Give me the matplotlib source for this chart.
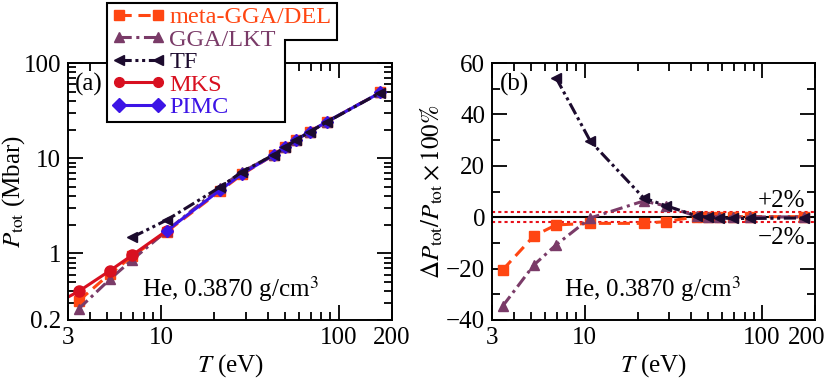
"""Helium total pressure vs temperature: absolute values and relative deviations."""

import matplotlib

matplotlib.use("Agg")
import matplotlib.pyplot as plt
import numpy as np
from matplotlib.lines import Line2D
from matplotlib.patches import Polygon
from matplotlib.ticker import FixedLocator, LogLocator, MultipleLocator, NullFormatter
from matplotlib.transforms import ScaledTranslation

plt.rcParams["font.family"] = ["Liberation Serif", "DejaVu Serif"]
plt.rcParams["mathtext.fontset"] = "stix"
plt.rcParams["axes.linewidth"] = 1.4

# temperatures (eV)
T_ALL = [3.447, 5.17, 6.894, 10.77, 21.54, 28.73, 43.09, 50.0, 57.45, 68.94, 86.17, 172.3]
T_TF = [6.894, 10.77, 21.54, 28.73, 43.09, 50.0, 57.45, 68.94, 86.17, 172.3]
T_MKS = [2.585, 3.447, 5.17, 6.894, 10.77]
T_PIMC = [10.77, 21.54, 28.73, 43.09, 50.0, 57.45, 68.94, 86.17, 172.3]

# panel (a): total pressure (Mbar)
P_DEL = [0.318, 0.612, 0.931, 1.69, 4.52, 6.78, 10.82, 13.03, 15.53, 19.04, 24.25, 49.1]
P_LKT = [0.262, 0.537, 0.856, 1.725, 4.92, 7.20, 10.83, 13.03, 15.53, 19.02, 24.22, 49.05]
P_TF = [1.48, 2.24, 4.98, 7.21, 10.85, 13.0, 15.45, 18.9, 24.08, 48.85]
P_MKS = [0.30, 0.40, 0.66, 0.96, 1.73]
P_PIMC = [1.73, 4.63, 6.9, 10.8, 13.0, 15.5, 19.0, 24.2, 49.0]

# panel (b): relative deviation (%)
D_DEL = [-20.5, -7.3, -3.0, -2.4, -2.4, -1.7, 0.2, 0.2, 0.2, 0.2, 0.2, 0.2]
D_LKT = [-34.6, -18.6, -10.8, -0.3, 6.3, 4.4, 0.3, 0.2, 0.2, 0.1, 0.1, 0.1]
D_TF = [54.3, 29.6, 7.5, 4.5, 0.5, 0.0, -0.3, -0.5, -0.5, -0.3]

X_TICKS = [3, 10, 100, 200]
C_DEL = "#FF4612"
C_LKT = "#7A3B68"
C_TF = "#1C0B2E"
C_MKS = "#D81020"
C_PIMC = "#3C14E6"

STYLE = {
    "DEL": dict(color=C_DEL, marker="s", ls=(0, (4, 2.2)), label="meta-GGA/DEL"),
    "LKT": dict(color=C_LKT, marker="^", ls=(0, (4, 1.5, 1, 1.5)), label="GGA/LKT"),
    "TF": dict(color=C_TF, marker="<", ls=(0, (4, 1.2, 1, 1.2, 1, 1.2)), label="TF"),
    "MKS": dict(color=C_MKS, marker="o", ls="-", label="MKS"),
    "PIMC": dict(color=C_PIMC, marker="D", ls="-", label="PIMC"),
}
LW = 2.2
MS = 7

W, H = 829, 387
fig = plt.figure(figsize=(W / 100, H / 100), dpi=100)
ax_a = fig.add_axes([68 / W, 1 - 320 / H, 324 / W, 257 / H])
ax_b = fig.add_axes([492 / W, 1 - 320 / H, 323 / W, 257 / H])


def style_ticks(ax):
    ax.tick_params(which="both", direction="in", top=True, right=True, labelsize=18, width=1.3)
    ax.tick_params(which="major", length=11, pad=5)
    ax.tick_params(which="minor", length=6)
    ax.set_xscale("log")
    ax.set_xlim(3, 200)
    ax.xaxis.set_major_locator(FixedLocator(X_TICKS))
    ax.xaxis.set_minor_locator(LogLocator(subs=np.arange(2, 10)))
    ax.xaxis.set_minor_formatter(NullFormatter())
    ax.set_xticklabels([str(t) for t in X_TICKS])
    ax.set_xlabel("$T$ (eV)", fontsize=18, labelpad=2)


# panel (a)
ax_a.plot(T_ALL, P_DEL, lw=LW, ms=MS, **STYLE["DEL"])
ax_a.plot(T_ALL, P_LKT, lw=LW, ms=MS, **STYLE["LKT"])
ax_a.plot(T_MKS, P_MKS, lw=LW, ms=MS + 1, **STYLE["MKS"])
ax_a.plot(T_PIMC, P_PIMC, lw=LW, ms=MS - 1, **STYLE["PIMC"])
ax_a.plot(T_TF, P_TF, lw=LW, ms=MS, **STYLE["TF"])
ax_a.set_yscale("log")
ax_a.set_ylim(0.2, 100)
style_ticks(ax_a)
ax_a.yaxis.set_major_locator(FixedLocator([0.2, 1, 10, 100]))
ax_a.yaxis.set_minor_locator(LogLocator(subs=np.arange(2, 10)))
ax_a.yaxis.set_minor_formatter(NullFormatter())
ax_a.set_yticklabels(["0.2", "1", "10", "100"])
ax_a.set_ylabel("$P_{\\rm tot}$ (Mbar)", fontsize=18)
ax_a.yaxis.set_label_coords(-0.125, 0.5)
ax_a.text(0.02, 0.915, "(a)", transform=ax_a.transAxes, fontsize=18, va="center")
ax_a.text(0.5, 0.12, "He, 0.3870 g/cm$^3$", transform=ax_a.transAxes,
          fontsize=18, ha="center", va="center")

# panel (b)
ax_b.axhline(0, color="black", lw=1.5, zorder=1)
for lvl in (2, -2):
    ax_b.axhline(lvl, color="#E8101A", lw=1.5, ls=(0, (1.5, 1.5)), zorder=1)
ax_b.plot(T_ALL, D_DEL, lw=LW, ms=MS, **STYLE["DEL"])
ax_b.plot(T_ALL, D_LKT, lw=LW, ms=MS, **STYLE["LKT"])
ax_b.plot(T_TF, D_TF, lw=LW, ms=MS, **STYLE["TF"])
ax_b.set_ylim(-40, 60)
style_ticks(ax_b)
ax_b.yaxis.set_major_locator(MultipleLocator(20))
ax_b.yaxis.set_minor_locator(MultipleLocator(10))
ax_b.set_yticks(range(-40, 61, 20))
ax_b.set_yticklabels([str(v).replace("-", "\u2212") for v in range(-40, 61, 20)])
ax_b.set_ylabel("$\\Delta P_{\\rm tot}/P_{\\rm tot} \\times 100\\%$", fontsize=18)
ax_b.yaxis.set_label_coords(-0.145, 0.5)
ax_b.text(0.025, 0.915, "(b)", transform=ax_b.transAxes, fontsize=18, va="center")
ax_b.text(0.496, 0.12, "He, 0.3870 g/cm$^3$", transform=ax_b.transAxes,
          fontsize=18, ha="center", va="center")
ax_b.text(0.97, 6.3, "+2%", transform=ax_b.get_yaxis_transform(), fontsize=18,
          ha="right", va="center")
ax_b.text(0.97, -8.0, "\u22122%", transform=ax_b.get_yaxis_transform(), fontsize=18,
          ha="right", va="center")
# keep the last x label inside the canvas
last = ax_b.get_xticklabels()[-1]
last.set_transform(last.get_transform() + ScaledTranslation(-8 / 100, 0, fig.dpi_scale_trans))

# legend with its stepped frame
frame_px = [(107, 3), (337, 3), (337, 40), (285, 40), (285, 122), (107, 122)]
frame = Polygon([(x / W, 1 - y / H) for x, y in frame_px], closed=True,
                transform=fig.transFigure, facecolor="white", edgecolor="black",
                lw=1.5, zorder=4)
fig.add_artist(frame)
handles = [
    Line2D([], [], lw=LW, ms=MS, **STYLE[k]) for k in ("DEL", "LKT", "TF", "MKS", "PIMC")
]
leg = fig.legend(handles=handles, loc="upper left", bbox_to_anchor=(112 / W, 1 - 6 / H),
                 bbox_transform=fig.transFigure, frameon=False, fontsize=17.5,
                 numpoints=2, handlelength=2.2, handletextpad=0.16, labelspacing=0.02,
                 borderpad=0, borderaxespad=0)
leg.set_zorder(6)
for txt, h in zip(leg.get_texts(), handles):
    txt.set_color(h.get_color())

fig.savefig("out.png", dpi=100)
